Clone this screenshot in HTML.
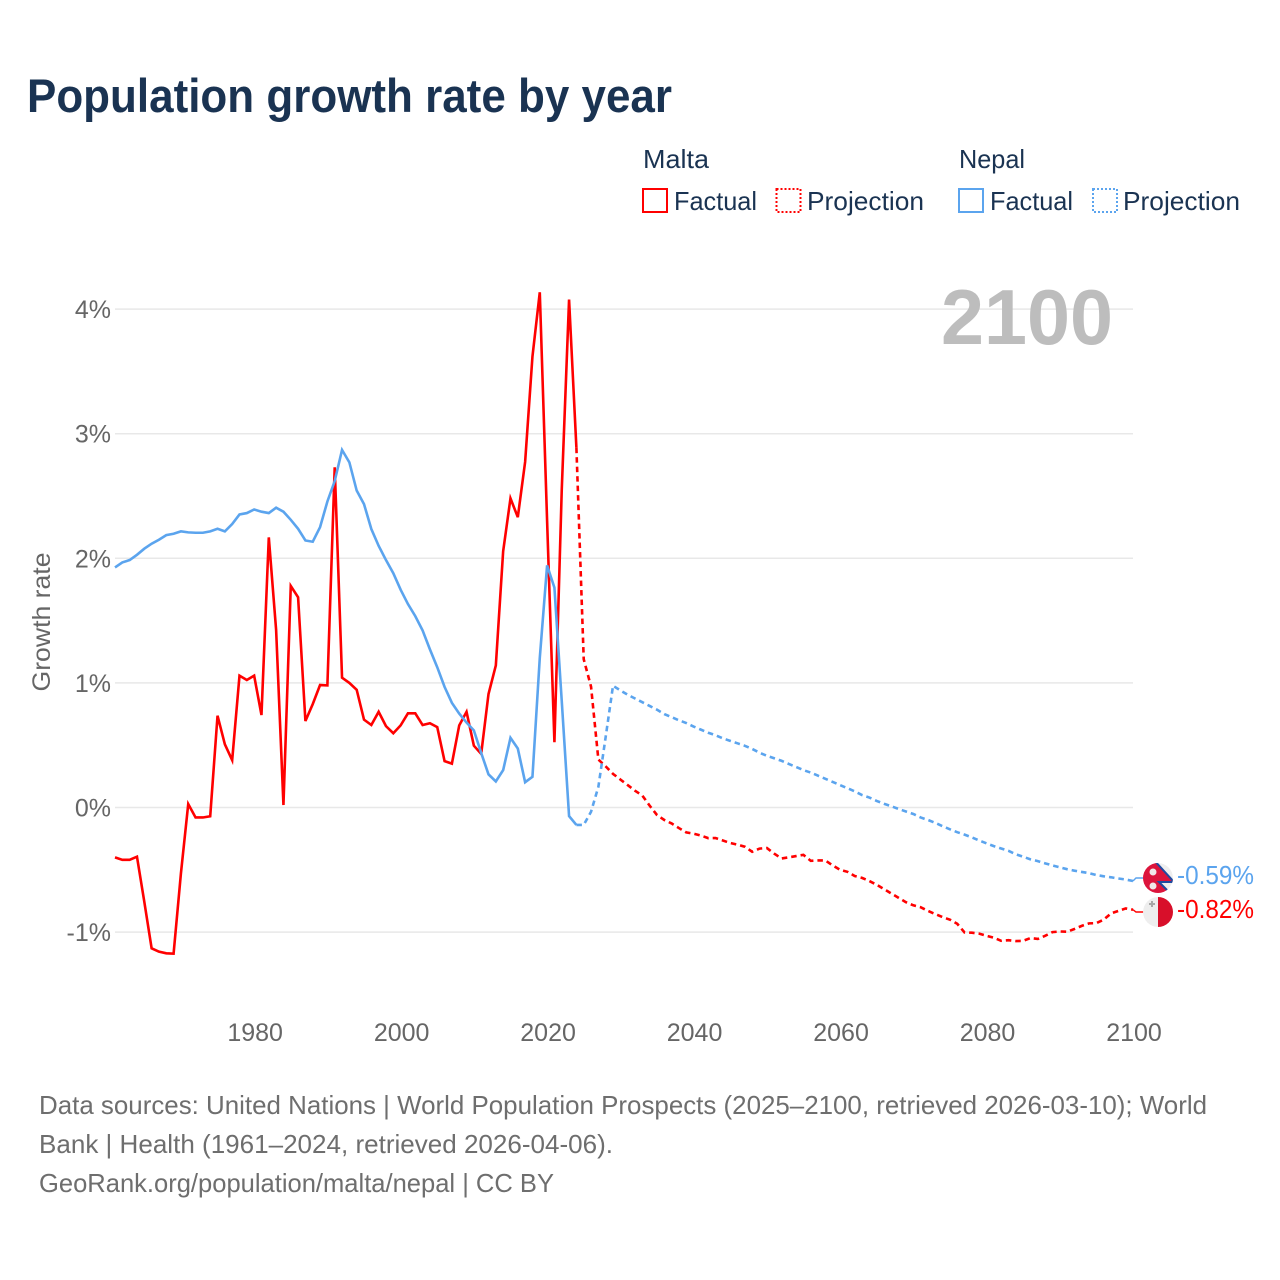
<!DOCTYPE html>
<html lang="en">
<head>
<meta charset="utf-8">
<title>Population growth rate by year</title>
<style>
html,body{margin:0;padding:0;background:#fff;}
svg{display:block;font-family:"Liberation Sans",sans-serif;}
.tick{font-size:25px;fill:#666;}
.legend{font-size:26px;fill:#1a3352;}
.foot{font-size:26px;fill:#6e6e6e;}
</style>
</head>
<body>
<svg id="chart" width="1280" height="1280" viewBox="0 0 1280 1280" xmlns="http://www.w3.org/2000/svg">
  <defs>
    <clipPath id="clip-nepal"><circle cx="1158" cy="878" r="15"/></clipPath>
    <clipPath id="clip-malta"><circle cx="1158" cy="912" r="15"/></clipPath>
  </defs>
  <rect width="1280" height="1280" fill="#fff"/>
  <text x="27" y="112" font-size="47" font-weight="700" fill="#1a3352" textLength="645" lengthAdjust="spacingAndGlyphs">Population growth rate by year</text>

  <g>
    <text class="legend" x="643" y="168" textLength="66" lengthAdjust="spacingAndGlyphs">Malta</text>
    <text class="legend" x="959" y="168" textLength="66" lengthAdjust="spacingAndGlyphs">Nepal</text>
    <g>
      <rect x="643" y="189" width="24" height="23" fill="none" stroke="#ff0000" stroke-width="2"/>
      <text class="legend" x="674" y="210" textLength="83" lengthAdjust="spacingAndGlyphs">Factual</text>
    </g>
    <g>
      <rect x="776.5" y="189" width="24" height="23" fill="none" stroke="#ff0000" stroke-width="2" stroke-dasharray="2 2"/>
      <text class="legend" x="807" y="210" textLength="117" lengthAdjust="spacingAndGlyphs">Projection</text>
    </g>
    <g>
      <rect x="959" y="189" width="24" height="23" fill="none" stroke="#5ba4ee" stroke-width="2"/>
      <text class="legend" x="990" y="210" textLength="83" lengthAdjust="spacingAndGlyphs">Factual</text>
    </g>
    <g>
      <rect x="1093" y="189" width="24" height="23" fill="none" stroke="#5ba4ee" stroke-width="2" stroke-dasharray="2 2"/>
      <text class="legend" x="1123" y="210" textLength="117" lengthAdjust="spacingAndGlyphs">Projection</text>
    </g>
  </g>

  <g id="grid"></g>
  <text x="941" y="344" font-size="78" font-weight="700" fill="#bdbdbd" textLength="172" lengthAdjust="spacingAndGlyphs">2100</text>
  <g id="yticks"></g>
  <g id="xticks"></g>
  <text class="tick" transform="translate(50,622) rotate(-90)" text-anchor="middle" textLength="139" lengthAdjust="spacingAndGlyphs">Growth rate</text>
  <g id="series"></g>

  <g clip-path="url(#clip-nepal)">
    <circle cx="1158" cy="878" r="15" fill="#eeeeee"/>
    <path d="M1153 859 L1174 882 L1159 882 L1172 895 L1140 897 L1140 859 Z" fill="#dc143c" stroke="#1f4aa0" stroke-width="2"/>
    <circle cx="1153" cy="872" r="3.5" fill="#f0e8e8"/>
    <circle cx="1153" cy="886" r="3.5" fill="#f0e8e8"/>
  </g>
  <g clip-path="url(#clip-malta)">
    <circle cx="1158" cy="912" r="15" fill="#eeeeee"/>
    <rect x="1158" y="896" width="16" height="32" fill="#d80f2a"/>
    <path d="M1151 901 h2 v2 h2 v2 h-2 v2 h-2 v-2 h-2 v-2 h2 Z" fill="#a8a8a8"/>
  </g>
  <text x="1177" y="884" font-size="25.5" fill="#5ba4ee" textLength="77" lengthAdjust="spacingAndGlyphs">-0.59%</text>
  <text x="1177" y="918" font-size="25.5" fill="#ff0000" textLength="77" lengthAdjust="spacingAndGlyphs">-0.82%</text>

  <g>
    <text class="foot" x="39" y="1114" textLength="1168" lengthAdjust="spacingAndGlyphs">Data sources: United Nations | World Population Prospects (2025–2100, retrieved 2026-03-10); World</text>
    <text class="foot" x="39" y="1153" textLength="574" lengthAdjust="spacingAndGlyphs">Bank | Health (1961–2024, retrieved 2026-04-06).</text>
    <text class="foot" x="39" y="1192" textLength="515" lengthAdjust="spacingAndGlyphs">GeoRank.org/population/malta/nepal | CC BY</text>
  </g>
</svg>
<script>
const xStartYear = 1961;
const xEndYear = 2100;
const projectionStartYear = 2024;
const xTickYears = [1980, 2000, 2020, 2040, 2060, 2080, 2100];
const yTickValues = [-1, 0, 1, 2, 3, 4];
const yTickLabels = ['-1%', '0%', '1%', '2%', '3%', '4%'];

const maltaFactual = [-0.40,-0.42,-0.42,-0.395,-0.756,-1.13,-1.157,-1.17,-1.173,-0.53,0.028,-0.08,-0.08,-0.07,0.737,0.507,0.38,1.058,1.023,1.058,0.742,2.168,1.425,0.02,1.778,1.687,0.694,0.83,0.983,0.98,2.73,1.042,1.0,0.945,0.705,0.662,0.768,0.653,0.596,0.659,0.756,0.756,0.662,0.676,0.645,0.372,0.352,0.659,0.768,0.496,0.43,0.911,1.14,2.057,2.481,2.33,2.774,3.619,4.135,2.3,0.524,2.55,4.077,2.888];
const maltaProjection = [2.888,1.19,0.97,0.385,0.33,0.27,0.225,0.18,0.135,0.096,0.015,-0.06,-0.10,-0.128,-0.165,-0.20,-0.21,-0.225,-0.246,-0.245,-0.265,-0.285,-0.298,-0.315,-0.355,-0.33,-0.325,-0.37,-0.409,-0.40,-0.39,-0.38,-0.428,-0.425,-0.425,-0.465,-0.50,-0.516,-0.55,-0.565,-0.59,-0.62,-0.655,-0.69,-0.725,-0.76,-0.785,-0.80,-0.83,-0.855,-0.88,-0.90,-0.933,-1.003,-1.005,-1.012,-1.03,-1.045,-1.07,-1.065,-1.072,-1.07,-1.048,-1.055,-1.03,-1.0,-0.995,-0.997,-0.975,-0.95,-0.93,-0.928,-0.90,-0.85,-0.83,-0.81,-0.82];
const nepalFactual = [1.927,1.967,1.986,2.028,2.077,2.117,2.149,2.186,2.197,2.216,2.208,2.205,2.205,2.216,2.237,2.216,2.275,2.352,2.363,2.392,2.374,2.363,2.406,2.374,2.309,2.237,2.143,2.133,2.25,2.456,2.62,2.87,2.77,2.544,2.435,2.235,2.10,1.986,1.88,1.748,1.633,1.536,1.421,1.269,1.126,0.968,0.84,0.754,0.682,0.619,0.438,0.266,0.209,0.30,0.559,0.473,0.203,0.246,1.2,1.943,1.765,0.854,-0.069,-0.14];
const nepalProjection = [-0.14,-0.14,-0.034,0.166,0.567,0.977,0.94,0.905,0.875,0.845,0.815,0.785,0.75,0.725,0.70,0.678,0.65,0.625,0.60,0.58,0.555,0.535,0.515,0.495,0.47,0.44,0.415,0.395,0.375,0.35,0.325,0.30,0.28,0.255,0.23,0.205,0.18,0.155,0.13,0.10,0.08,0.053,0.03,0.01,-0.012,-0.032,-0.052,-0.08,-0.10,-0.123,-0.15,-0.175,-0.198,-0.218,-0.24,-0.265,-0.288,-0.31,-0.329,-0.348,-0.375,-0.395,-0.416,-0.43,-0.448,-0.465,-0.48,-0.495,-0.507,-0.517,-0.527,-0.542,-0.552,-0.56,-0.57,-0.578,-0.59];

const SVG_NS = 'http://www.w3.org/2000/svg';
const plotLeft = 115;
const plotRight = 1133;
const zeroY = 807.5;
const unitY = 124.6;

function xScale(year) {
  return plotLeft + (year - xStartYear) * (plotRight - plotLeft) / (xEndYear - xStartYear);
}
function yScale(value) {
  return zeroY - value * unitY;
}
function linePath(values, firstYear) {
  return values.map(function (v, i) {
    return (i ? 'L' : 'M') + xScale(firstYear + i).toFixed(2) + ' ' + yScale(v).toFixed(2);
  }).join(' ');
}

const gridGroup = document.getElementById('grid');
const yTickGroup = document.getElementById('yticks');
const xTickGroup = document.getElementById('xticks');
const seriesGroup = document.getElementById('series');

yTickValues.forEach(function (v, i) {
  const gl = document.createElementNS(SVG_NS, 'line');
  
  
  gl.setAttribute('x1', plotLeft);
  gl.setAttribute('x2', plotRight);
  gl.setAttribute('y1', yScale(v));
  gl.setAttribute('y2', yScale(v));
  gl.setAttribute('stroke', '#e8e8e8');
  gl.setAttribute('stroke-width', '1.5');
  gridGroup.appendChild(gl);

  const tl = document.createElementNS(SVG_NS, 'text');
  
  
  tl.setAttribute('class', 'tick');
  tl.setAttribute('x', 111);
  tl.setAttribute('y', yScale(v) + 9);
  tl.setAttribute('text-anchor', 'end');
  tl.textContent = yTickLabels[i];
  yTickGroup.appendChild(tl);
});

xTickYears.forEach(function (year) {
  const tl = document.createElementNS(SVG_NS, 'text');
  
  
  tl.setAttribute('class', 'tick');
  tl.setAttribute('x', xScale(year) + 1);
  tl.setAttribute('y', 1041);
  tl.setAttribute('text-anchor', 'middle');
  tl.textContent = String(year);
  xTickGroup.appendChild(tl);
});

function addLine(values, firstYear, color, dashed, name) {
  const p = document.createElementNS(SVG_NS, 'path');
  
  
  p.setAttribute('d', linePath(values, firstYear));
  p.setAttribute('fill', 'none');
  p.setAttribute('stroke', color);
  p.setAttribute('stroke-width', '2.6');
  p.setAttribute('stroke-linejoin', 'miter');
  if (dashed) {
    p.setAttribute('stroke-dasharray', '5.5 4');
  }
  seriesGroup.appendChild(p);
}

function addConnector(value, color, flagY, name) {
  const c = document.createElementNS(SVG_NS, 'path');
  
  
  c.setAttribute('d', 'M' + xScale(xEndYear) + ' ' + yScale(value) + ' L1136 ' + flagY + ' L1144 ' + flagY);
  c.setAttribute('fill', 'none');
  c.setAttribute('stroke', color);
  c.setAttribute('stroke-width', '1.4');
  seriesGroup.appendChild(c);
}

addLine(maltaFactual, xStartYear, '#ff0000', false, 'malta-factual-line');
addLine(maltaProjection, projectionStartYear, '#ff0000', true, 'malta-projection-line');
addLine(nepalFactual, xStartYear, '#5ba4ee', false, 'nepal-factual-line');
addLine(nepalProjection, projectionStartYear, '#5ba4ee', true, 'nepal-projection-line');
addConnector(maltaProjection[maltaProjection.length - 1], '#ff0000', 912, 'malta-flag-connector');
addConnector(nepalProjection[nepalProjection.length - 1], '#5ba4ee', 878, 'nepal-flag-connector');
</script>
</body>
</html>
